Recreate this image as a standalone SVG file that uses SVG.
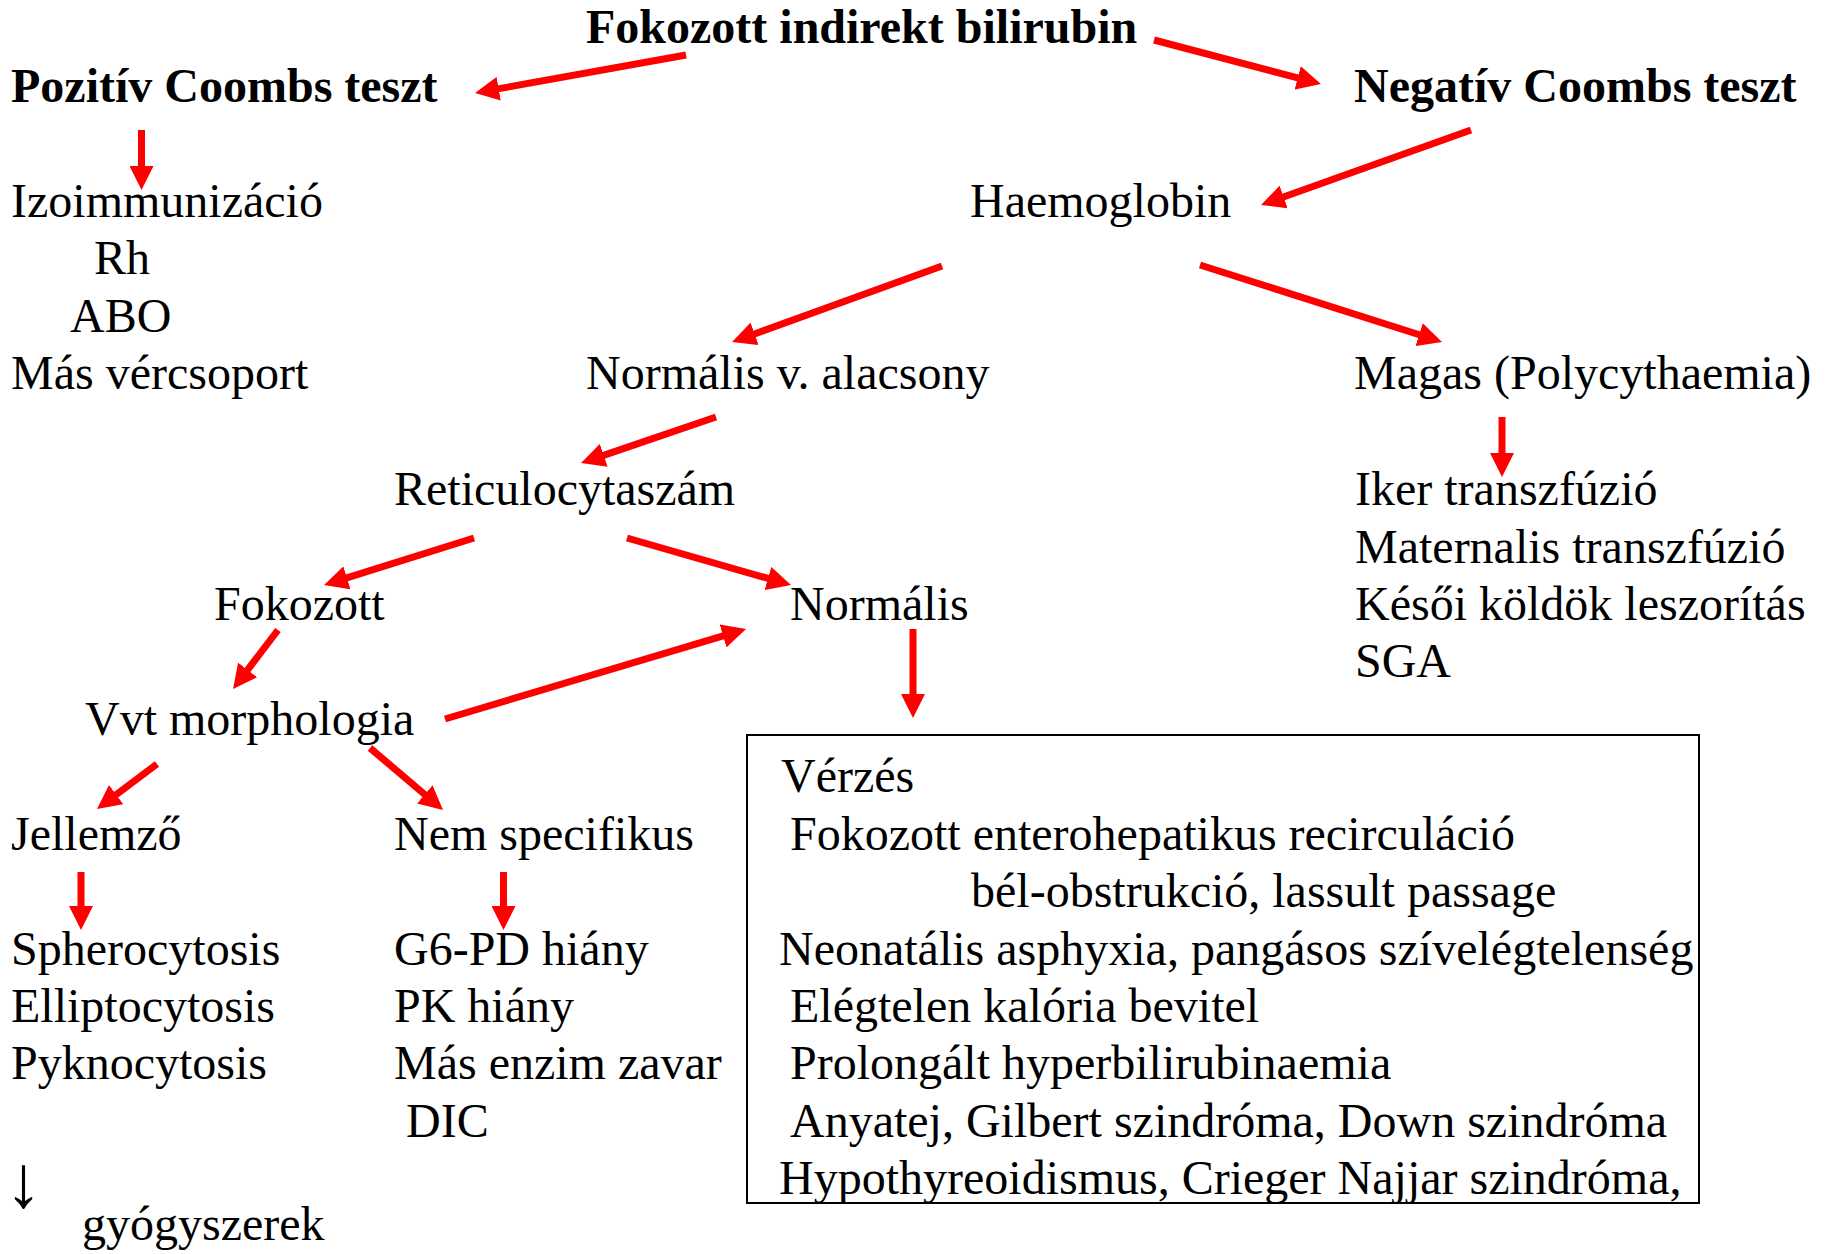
<svg xmlns="http://www.w3.org/2000/svg" width="1831" height="1254" viewBox="0 0 1831 1254">
<style>
text{font-family:"Liberation Serif","Times New Roman",serif;font-size:48px;fill:#000}
.b{font-weight:bold}
.arr{stroke:#FF0000;stroke-width:7;fill:none;marker-end:url(#ah)}
.box{fill:none;stroke:#000;stroke-width:2}
</style>
<defs>
<marker id="ah" markerUnits="userSpaceOnUse" markerWidth="24" markerHeight="24" viewBox="0 0 24 24" refX="1" refY="12" orient="auto">
<path d="M0,0 L24,12 L0,24 Z" fill="#FF0000"/>
</marker>
</defs>
<rect width="1831" height="1254" fill="#fff"/>
<g id="n-top"><text class="b" x="586" y="43">Fokozott indirekt bilirubin</text></g>
<g id="n-pos"><text class="b" x="11" y="102">Pozitív Coombs teszt</text></g>
<g id="n-neg"><text class="b" x="1354" y="102">Negatív Coombs teszt</text></g>
<g id="n-izo">
<text x="11" y="217">Izoimmunizáció</text>
<text x="94" y="274">Rh</text>
<text x="70" y="332">ABO</text>
<text x="11" y="389">Más vércsoport</text>
</g>
<g id="n-hgb"><text x="970" y="217">Haemoglobin</text></g>
<g id="n-norm-alacs"><text x="586" y="389">Normális v. alacsony</text></g>
<g id="n-magas"><text x="1354" y="389">Magas (Polycythaemia)</text></g>
<g id="n-poly-list">
<text x="1355" y="505">Iker transzfúzió</text>
<text x="1355" y="563">Maternalis transzfúzió</text>
<text x="1355" y="620">Késői köldök leszorítás</text>
<text x="1355" y="677">SGA</text>
</g>
<g id="n-retic"><text x="394" y="505">Reticulocytaszám</text></g>
<g id="n-fokozott"><text x="214" y="620">Fokozott</text></g>
<g id="n-normalis"><text x="790" y="620">Normális</text></g>
<g id="n-vvt"><text x="85" y="735">Vvt morphologia</text></g>
<g id="n-jell"><text x="11" y="850">Jellemző</text></g>
<g id="n-nem"><text x="394" y="850">Nem specifikus</text></g>
<g id="n-jell-list">
<text x="11" y="965">Spherocytosis</text>
<text x="11" y="1022">Elliptocytosis</text>
<text x="11" y="1079">Pyknocytosis</text>
</g>
<g id="n-nem-list">
<text x="394" y="965">G6-PD hiány</text>
<text x="394" y="1022">PK hiány</text>
<text x="394" y="1079">Más enzim zavar</text>
<text x="406" y="1137">DIC</text>
</g>
<g id="n-gyogy">
<text x="5" y="1207" style="font-size:74px">↓</text>
<text x="82" y="1240">gyógyszerek</text>
</g>
<g id="n-box">
<rect class="box" x="747" y="735" width="952" height="468"/>
<text x="781" y="792">Vérzés</text>
<text x="790" y="850">Fokozott enterohepatikus recirculáció</text>
<text x="971" y="907">bél-obstrukció, lassult passage</text>
<text x="779" y="965">Neonatális asphyxia, pangásos szívelégtelenség</text>
<text x="790" y="1022">Elégtelen kalória bevitel</text>
<text x="790" y="1079">Prolongált hyperbilirubinaemia</text>
<text x="790" y="1137">Anyatej, Gilbert szindróma, Down szindróma</text>
<text x="779" y="1194">Hypothyreoidismus, Crieger Najjar szindróma,</text>
</g>
<g id="connectors">
<line class="arr" x1="686" y1="55" x2="497.7" y2="88.9"/>
<line class="arr" x1="1154" y1="40" x2="1298.7" y2="78.1"/>
<line class="arr" x1="141.5" y1="130" x2="141.5" y2="167"/>
<line class="arr" x1="1471" y1="130" x2="1282.7" y2="197.3"/>
<line class="arr" x1="942" y1="266" x2="753.7" y2="334.2"/>
<line class="arr" x1="1200" y1="265" x2="1420.1" y2="335"/>
<line class="arr" x1="1502" y1="417" x2="1502" y2="454"/>
<line class="arr" x1="716" y1="417" x2="602.8" y2="455.6"/>
<line class="arr" x1="474" y1="538" x2="346" y2="578.1"/>
<line class="arr" x1="627" y1="538" x2="768.9" y2="578.7"/>
<line class="arr" x1="278" y1="630" x2="247" y2="670.7"/>
<line class="arr" x1="445" y1="719" x2="724" y2="635.6"/>
<line class="arr" x1="913" y1="629" x2="913" y2="695"/>
<line class="arr" x1="157" y1="764" x2="115.4" y2="795.2"/>
<line class="arr" x1="370" y1="748" x2="425.5" y2="795.1"/>
<line class="arr" x1="81" y1="872" x2="81" y2="907"/>
<line class="arr" x1="503.5" y1="872" x2="503.5" y2="907"/>
</g>
</svg>
